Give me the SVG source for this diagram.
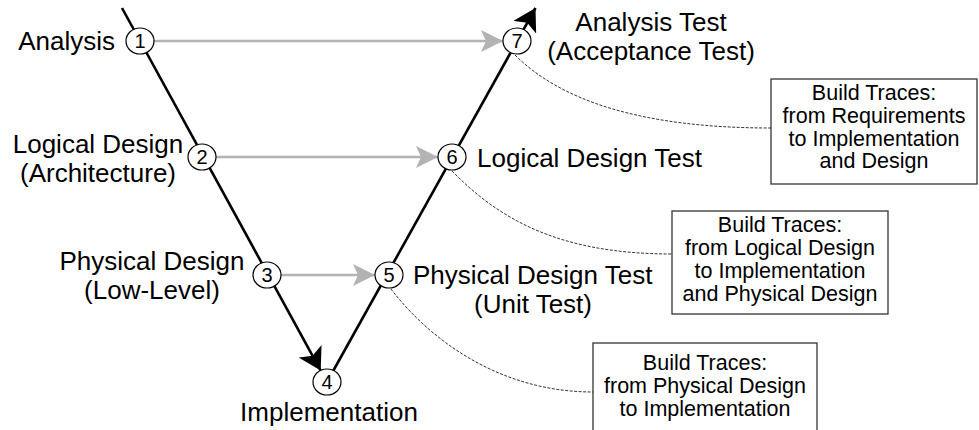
<svg xmlns="http://www.w3.org/2000/svg" width="979" height="430" viewBox="0 0 979 430">
  <style>
    .lbl { font-family: "Liberation Sans", Arial, sans-serif; font-size: 26px; fill: #000; }
    .num { font-family: "Liberation Sans", Arial, sans-serif; font-size: 20px; fill: #000; text-anchor: middle; }
    .note { font-family: "Liberation Sans", Arial, sans-serif; font-size: 21.5px; fill: #000; text-anchor: middle; }
    .mid { text-anchor: middle; }
    .end { text-anchor: end; }
    .phase { fill: none; stroke: #000; stroke-width: 2.6; }
    .flow { fill: none; stroke: #b3b3b3; stroke-width: 2.5; }
    .trace { fill: none; stroke: #333; stroke-width: 1; stroke-dasharray: 3 1.5; }
    .node { fill: #fff; stroke: #000; stroke-width: 1.2; }
    .box { fill: #fff; stroke: #333; stroke-width: 1.3; }
  </style>
  <defs>
    <marker id="blackHead" markerUnits="userSpaceOnUse" markerWidth="24" markerHeight="26" refX="22" refY="13" orient="auto">
      <path d="M0,0 L22,13 L0,26 L5,13 z" fill="#000"/>
    </marker>
    <marker id="grayHead" markerUnits="userSpaceOnUse" markerWidth="24" markerHeight="22" refX="22" refY="11" orient="auto">
      <path d="M0,0 L22,11 L0,22 L5,11 z" fill="#b3b3b3"/>
    </marker>
  </defs>

  <!-- connectors: V-model legs, phase-to-test arrows, trace links -->
  <g id="connectors">
    <path class="phase" d="M122,8 L320.7,370.6" marker-end="url(#blackHead)"/>
    <path class="phase" d="M327,382 L535.5,8" marker-end="url(#blackHead)"/>
    <path class="flow" d="M154,41 L503,41" marker-end="url(#grayHead)"/>
    <path class="flow" d="M216,157 L438,157" marker-end="url(#grayHead)"/>
    <path class="flow" d="M281,275 L375,275" marker-end="url(#grayHead)"/>
    <path class="trace" d="M515,55 C560,100 640,128 771,128"/>
    <path class="trace" d="M452,171 C500,220 560,254 672,254"/>
    <path class="trace" d="M391,289 C430,340 500,392 593,392"/>
  </g>

  <!-- phase nodes -->
  <g id="n1">
    <ellipse class="node" cx="140" cy="41" rx="14" ry="13"/>
    <text class="num" x="140" y="48">1</text>
    <text class="lbl end" x="115" y="50">Analysis</text>
  </g>
  <g id="n2">
    <ellipse class="node" cx="202" cy="157" rx="14" ry="13"/>
    <text class="num" x="202" y="164">2</text>
    <text class="lbl mid" x="98" y="153">Logical Design</text>
    <text class="lbl mid" x="98" y="182">(Architecture)</text>
  </g>
  <g id="n3">
    <ellipse class="node" cx="267" cy="275" rx="14" ry="13"/>
    <text class="num" x="267" y="282">3</text>
    <text class="lbl mid" x="152" y="270">Physical Design</text>
    <text class="lbl mid" x="152" y="299">(Low-Level)</text>
  </g>
  <g id="n4">
    <ellipse class="node" cx="327" cy="382" rx="14" ry="13"/>
    <text class="num" x="327" y="389">4</text>
    <text class="lbl mid" x="329" y="421">Implementation</text>
  </g>
  <g id="n5">
    <ellipse class="node" cx="389" cy="275" rx="14" ry="13"/>
    <text class="num" x="389" y="282">5</text>
    <text class="lbl" x="413" y="284">Physical Design Test</text>
    <text class="lbl mid" x="533" y="313">(Unit Test)</text>
  </g>
  <g id="n6">
    <ellipse class="node" cx="452" cy="157" rx="14" ry="13"/>
    <text class="num" x="452" y="164">6</text>
    <text class="lbl" x="477" y="167">Logical Design Test</text>
  </g>
  <g id="n7">
    <ellipse class="node" cx="517" cy="41" rx="14" ry="13"/>
    <text class="num" x="517" y="48">7</text>
    <text class="lbl mid" x="651" y="31">Analysis Test</text>
    <text class="lbl mid" x="651" y="60">(Acceptance Test)</text>
  </g>

  <!-- trace notes -->
  <g id="note-requirements">
    <rect class="box" x="771" y="79" width="206" height="105"/>
    <text class="note" x="874" y="100">Build Traces:</text>
    <text class="note" x="874" y="123">from Requirements</text>
    <text class="note" x="874" y="146">to Implementation</text>
    <text class="note" x="874" y="168">and Design</text>
  </g>
  <g id="note-logical">
    <rect class="box" x="672" y="211" width="216" height="103"/>
    <text class="note" x="780" y="232">Build Traces:</text>
    <text class="note" x="780" y="255">from Logical Design</text>
    <text class="note" x="780" y="278">to Implementation</text>
    <text class="note" x="780" y="301">and Physical Design</text>
  </g>
  <g id="note-physical">
    <rect class="box" x="593" y="343" width="224" height="100"/>
    <text class="note" x="705" y="370">Build Traces:</text>
    <text class="note" x="705" y="393">from Physical Design</text>
    <text class="note" x="705" y="416">to Implementation</text>
  </g>
</svg>
